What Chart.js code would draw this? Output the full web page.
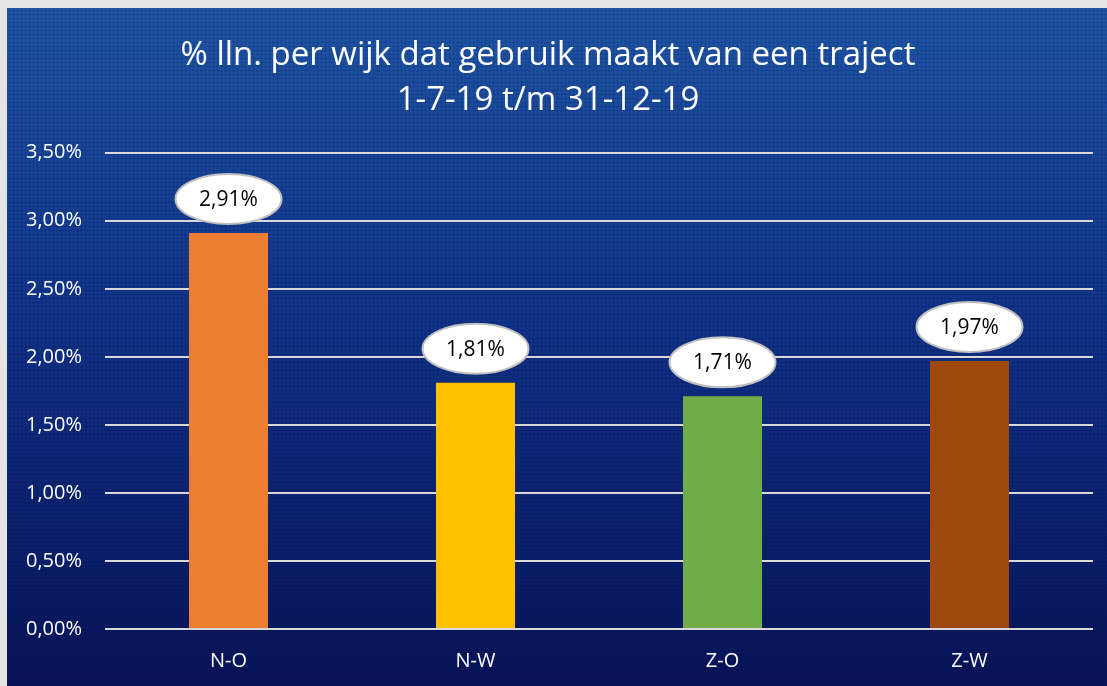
<!DOCTYPE html>
<html>
<head>
<meta charset="utf-8">
<script src="https://cdn.jsdelivr.net/npm/chart.js@4"></script>
<style>
  html, body { margin: 0; padding: 0; background: #e4e4e4; }
  #wrap { width: 1107px; height: 686px; }
</style>
</head>
<body>
<div id="wrap"><canvas id="grafiek" width="1107" height="686"></canvas></div>
<script>
// data
var wijken = ['N-O', 'N-W', 'Z-O', 'Z-W'];
var percentages = [2.91, 1.81, 1.71, 1.97];
var kleuren = ['#ed7d31', '#ffc000', '#70ad47', '#9e480e'];
var titel = ['% lln. per wijk dat gebruik maakt van een traject', '1-7-19 t/m 31-12-19'];

function procent(v, dec) {
  return v.toFixed(dec).replace('.', ',') + '%';
}

// achtergrond met verloop en rasterpatroon
const achtergrond = {
  id: 'achtergrond',
  beforeDraw: function (chart) {
    var ctx = chart.ctx;
    var w = chart.width, h = chart.height;
    ctx.save();
    ctx.fillStyle = '#e4e4e4';
    ctx.fillRect(0, 0, w, h);
    var grad = ctx.createLinearGradient(0, 8, 0, h);
    grad.addColorStop(0, '#1f55a6');
    grad.addColorStop(0.45, '#10338a');
    grad.addColorStop(1, '#08145a');
    ctx.fillStyle = grad;
    ctx.fillRect(7, 8, w - 7, h - 8);
    ctx.fillStyle = 'rgba(0,0,20,0.11)';
    for (var x = 9; x < w; x += 4) ctx.fillRect(x, 8, 1, h - 8);
    for (var y = 10; y < h; y += 4) ctx.fillRect(7, y, w - 7, 1);
    ctx.restore();
  }
};

// witte ovalen met waarden boven de staven
const ovalen = {
  id: 'ovalen',
  afterDatasetsDraw: function (chart) {
    var ctx = chart.ctx;
    var meta = chart.getDatasetMeta(0);
    ctx.save();
    meta.data.forEach(function (bar, i) {
      var cx = bar.x, cy = bar.y - 34;
      ctx.beginPath();
      ctx.ellipse(cx, cy, 53, 25, 0, 0, Math.PI * 2);
      ctx.fillStyle = '#ffffff';
      ctx.fill();
      ctx.lineWidth = 2;
      ctx.strokeStyle = '#bfbfbf';
      ctx.stroke();
      ctx.fillStyle = '#000000';
      ctx.font = '21px "Open Sans"';
      ctx.textAlign = 'center';
      ctx.textBaseline = 'middle';
      ctx.fillText(procent(percentages[i], 2), cx, cy + 1);
    });
    ctx.restore();
  }
};

const config = {
  type: 'bar',
  data: {
    labels: wijken,
    datasets: [{
      data: percentages,
      backgroundColor: kleuren,
      borderWidth: 0,
      barPercentage: 1,
      categoryPercentage: 0.32
    }]
  },
  options: {
    responsive: false,
    animation: false,
    layout: {
      padding: { top: 33, left: 3, right: 14, bottom: 0 }
    },
    plugins: {
      legend: { display: false },
      tooltip: { enabled: false },
      title: {
        display: true,
        text: titel,
        color: '#ffffff',
        font: { family: 'Open Sans', size: 33, weight: 'normal', lineHeight: 1.36 },
        padding: { top: 0, bottom: 30 }
      }
    },
    scales: {
      x: {
        grid: { display: false },
        border: { display: false },
        ticks: {
          color: '#ffffff',
          font: { family: 'Open Sans', size: 20, lineHeight: 0.85 },
          padding: 16
        }
      },
      y: {
        min: 0,
        max: 3.5,
        border: { display: false },
        grid: { color: '#d9d9d9', lineWidth: 2, drawTicks: false },
        ticks: {
          stepSize: 0.5,
          color: '#ffffff',
          font: { family: 'Open Sans', size: 20 },
          padding: 23,
          callback: function (v) { return procent(v, 2); }
        }
      }
    }
  },
  plugins: [achtergrond, ovalen]
};

var grafiek = new Chart(document.getElementById('grafiek'), config);
</script>
</body>
</html>
